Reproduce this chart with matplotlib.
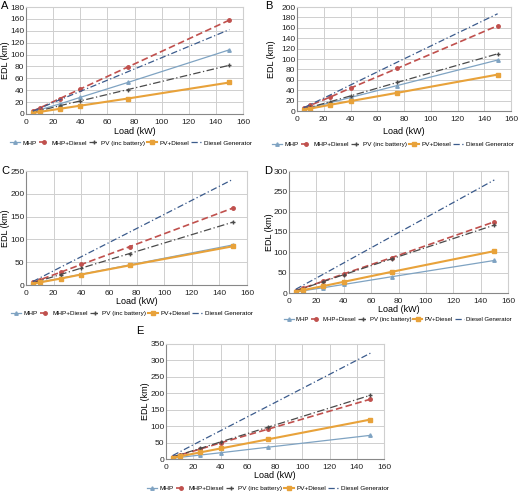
import matplotlib.pyplot as plt
import numpy as np

plt.rcParams['font.family'] = ['Liberation Sans', 'DejaVu Sans']

# 负载 (kW)
load = [5, 10, 25, 40, 75, 150]

series_names = ['MHP', 'MHP+Diesel', 'PV (inc battery)', 'PV+Diesel', 'Diesel Generator']

# 各子图 EDL (km) 数据
edl_a = {
    'MHP': [3.5, 7, 17, 28, 53, 108],
    'MHP+Diesel': [5, 10, 26, 42, 79, 158],
    'PV (inc battery)': [2.7, 5.5, 14, 22, 41, 82],
    'PV+Diesel': [1.8, 3.5, 8.8, 14, 26, 53],
    'Diesel Generator': [4.7, 9.5, 24, 38, 71, 142],
}
edl_b = {
    'MHP': [3.3, 6.5, 16, 26, 49, 98],
    'MHP+Diesel': [5.5, 11, 27, 44, 82, 164],
    'PV (inc battery)': [3.7, 7.3, 18, 29, 55, 110],
    'PV+Diesel': [2.3, 4.7, 12, 19, 35, 70],
    'Diesel Generator': [6.2, 12.5, 31, 50, 94, 187],
}
edl_c = {
    'MHP': [2.9, 5.9, 14.7, 23.5, 44, 88],
    'MHP+Diesel': [5.6, 11.3, 28, 45, 84, 169],
    'PV (inc battery)': [4.6, 9.2, 23, 37, 69, 138],
    'PV+Diesel': [2.8, 5.7, 14, 23, 43, 85],
    'Diesel Generator': [7.7, 15.5, 39, 62, 116, 232],
}
edl_d = {
    'MHP': [2.7, 5.3, 13, 21, 40, 80],
    'MHP+Diesel': [5.8, 11.7, 29, 47, 87, 175],
    'PV (inc battery)': [5.6, 11, 28, 45, 84, 167],
    'PV+Diesel': [3.4, 6.9, 17, 27.5, 52, 103],
    'Diesel Generator': [9.3, 18.5, 46, 74, 139, 278],
}
edl_e = {
    'MHP': [2.4, 4.8, 12, 19, 36, 72],
    'MHP+Diesel': [6, 12, 30, 49, 91, 182],
    'PV (inc battery)': [6.5, 13, 32, 52, 97, 194],
    'PV+Diesel': [4, 8, 20, 32, 60, 120],
    'Diesel Generator': [10.7, 21.5, 54, 86, 161, 322],
}

styles = {
    'MHP': dict(color='#7fa3c2', ls='-', lw=0.9, marker='^', ms=2.5),
    'MHP+Diesel': dict(color='#c0504d', ls=(0, (4, 2)), lw=1.2, marker='o', ms=2.5),
    'PV (inc battery)': dict(color='#4a4a4a', ls=(0, (6, 2, 1, 2)), lw=0.9, marker='+', ms=3.5),
    'PV+Diesel': dict(color='#e8a23a', ls='-', lw=1.5, marker='s', ms=2.5),
    'Diesel Generator': dict(color='#3b5b8c', ls=(0, (5, 2, 1, 2)), lw=0.9, marker=None, ms=0),
}

W, H = 520, 493
fig = plt.figure(figsize=(W / 100, H / 100), dpi=100)


def px_axes(left, top, right, bottom):
    return fig.add_axes([left / W, 1 - bottom / H, (right - left) / W, (bottom - top) / H])


def draw(ax, data, ymax, ystep, letter, letter_xy, ylabel_x, xlabel_y, legend_xy, leg_fs=4.6):
    for name in series_names:
        st = styles[name]
        ax.plot(load, data[name], color=st['color'], linestyle=st['ls'], lw=st['lw'],
                marker=st['marker'], markersize=st['ms'], label=name)
    ax.set_xlim(0, 160)
    ax.set_ylim(0, ymax)
    ax.set_xticks(np.arange(0, 161, 20))
    ax.set_yticks(np.arange(0, ymax + 1, ystep))
    ax.grid(True, color='#cfcfcf', lw=0.7)
    ax.set_axisbelow(True)
    for s in ax.spines.values():
        s.set_color('#cfcfcf')
    ax.spines['left'].set_color('#888888')
    ax.spines['bottom'].set_color('#888888')
    ax.tick_params(length=0, labelsize=6, colors='#222222')
    ax.tick_params(axis='x', pad=3.5)
    ax.tick_params(axis='y', pad=1.2)
    # 轴标题和字母按像素放置
    bbox = ax.get_position()
    fig.text((bbox.x0 + bbox.x1) / 2, 1 - xlabel_y / H, 'Load (kW)', fontsize=6.5,
             ha='center', va='center')
    fig.text(ylabel_x / W, (bbox.y0 + bbox.y1) / 2, 'EDL (km)', fontsize=6.5,
             ha='center', va='center', rotation=90)
    fig.text(letter_xy[0] / W, 1 - letter_xy[1] / H, letter, fontsize=8,
             ha='left', va='center')
    ax.legend(loc='center', bbox_to_anchor=(legend_xy[0] / W, 1 - legend_xy[1] / H),
              bbox_transform=fig.transFigure, ncol=5, frameon=False,
              fontsize=leg_fs, handlelength=1.6, handletextpad=0.35, columnspacing=0.3,
              borderaxespad=0)


ax_a = px_axes(26, 7, 243, 114)
draw(ax_a, edl_a, 180, 20, 'A', (1, 6), 5, 132, (131, 143))
ax_b = px_axes(297, 7, 511, 111)
draw(ax_b, edl_b, 200, 20, 'B', (265, 6), 271, 132, (393, 144))
ax_c = px_axes(26, 171, 247, 285)
draw(ax_c, edl_c, 250, 50, 'C', (1, 171), 5, 302, (132, 313))
ax_d = px_axes(289, 171, 508, 293)
draw(ax_d, edl_d, 300, 50, 'D', (264, 171), 270, 309, (398, 319), leg_fs=4.3)
ax_e = px_axes(166, 344, 384, 459)
draw(ax_e, edl_e, 350, 50, 'E', (136, 331), 145, 476, (268, 488))

fig.savefig('out.png', dpi=100)
